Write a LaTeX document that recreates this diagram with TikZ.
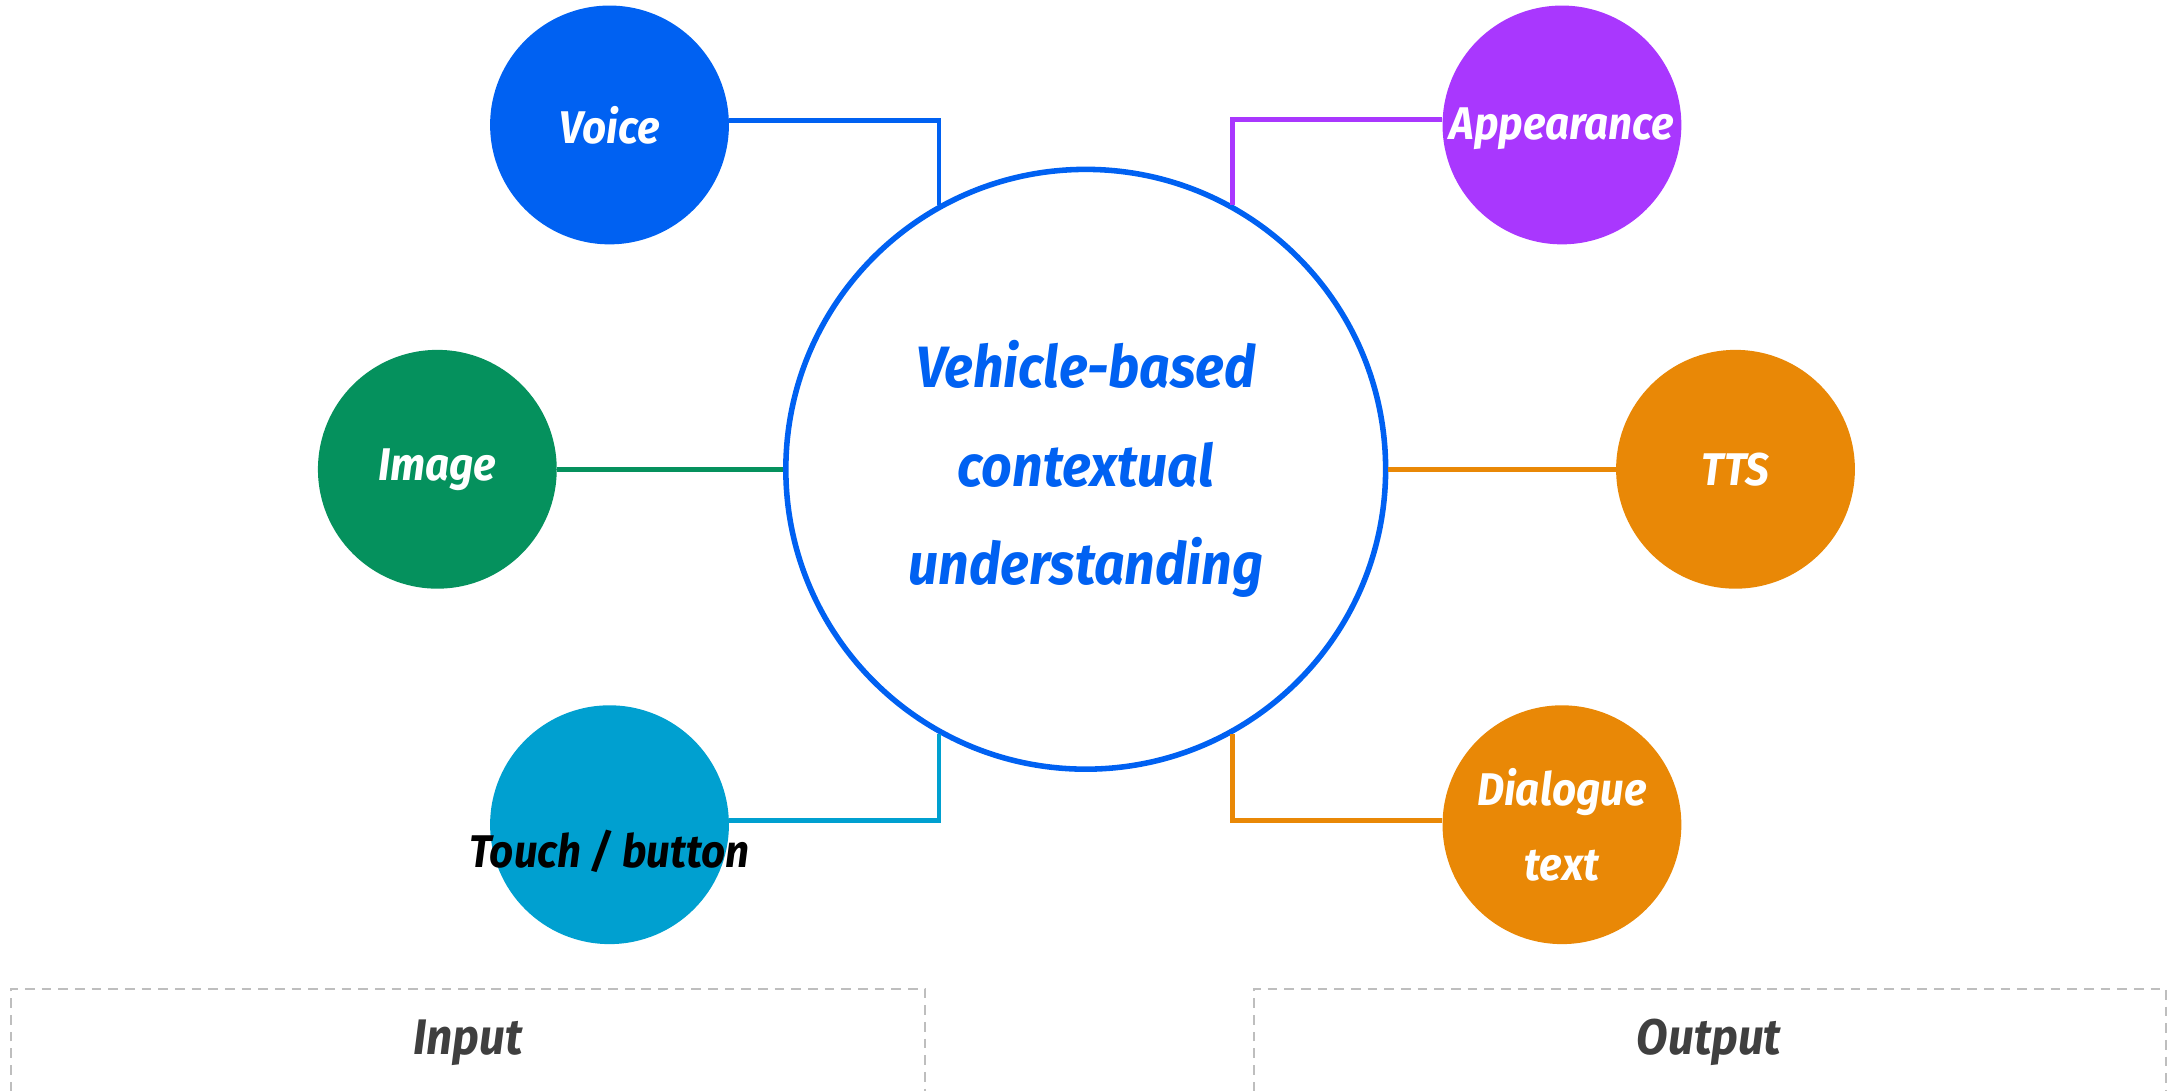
\documentclass[tikz,border=0pt]{standalone}
\usepackage{fontspec}
\setmainfont{Fira Sans}
\newfontfamily\diagfont[FakeStretch=0.92]{Fira Sans}
\definecolor{hubblue}{HTML}{0061F2}
\definecolor{imggreen}{HTML}{05915D}
\definecolor{touchcyan}{HTML}{00A0D0}
\definecolor{lookpurple}{HTML}{A937FE}
\definecolor{speakorange}{HTML}{E98806}
\definecolor{boxgray}{HTML}{BEBEBE}
\definecolor{captiongray}{HTML}{3F3F3F}
\tikzset{
	bubble/.style={circle, fill=#1, minimum size=172pt, inner sep=0pt},
	bubbletext/.style={text=white, font=\diagfont\fontsize{33}{54}\selectfont\bfseries\itshape, align=center},
	link/.style={line width=3.5pt, draw=#1},
	groupbox/.style={draw=boxgray, line width=1.5pt, dash pattern=on 7pt off 5pt},
}
\begin{document}
\begin{tikzpicture}[x=1pt, y=-1pt, line join=miter]
			\useasboundingbox (0,0) rectangle (1568,785.8);
			% Mittelkreis
			\node[circle, draw=hubblue, line width=4pt, minimum size=432pt, inner sep=0pt,
				text=hubblue, align=center, font=\diagfont\fontsize{42}{71}\selectfont\bfseries\itshape]
				(hub) at (782,338) {Vehicle-based\\contextual\\understanding};
			% Eingaben
			\node[bubble=hubblue, label={[bubbletext]center:Voice}] (voice) at (439,90) {};
			\node[bubble=imggreen, label={[bubbletext]center:Image}] (image) at (315,338) {};
			\node[bubble=touchcyan, label={[bubbletext, text=black, yshift=-19pt]center:Touch / button}] (touch) at (439,594) {};
			% Ausgaben
			\node[bubble=lookpurple, label={[bubbletext, yshift=-3pt]center:Appearance}] (appear) at (1125,90) {};
			\node[bubble=speakorange, label={[bubbletext]center:TTS}] (tts) at (1250,338) {};
			\node[bubble=speakorange, label={[bubbletext]center:Dialogue\\text}] (dialog) at (1125,594) {};
			% Verbindungen
			\draw[link=hubblue] ([yshift=3pt]voice.east) -| (hub.119);
			\draw[link=imggreen] (image.east) -- (hub.west);
			\draw[link=touchcyan] ([yshift=3pt]touch.east) -| (hub.241);
			\draw[link=lookpurple] ([yshift=4pt]appear.west) -| (hub.61);
			\draw[link=speakorange] (tts.west) -- (hub.east);
			\draw[link=speakorange] ([yshift=3pt]dialog.west) -| (hub.299);
			% Gruppen
			\draw[groupbox] (8,786) -- (8,712) -- (666,712) -- (666,786);
			\draw[groupbox] (903,786) -- (903,712) -- (1560,712) -- (1560,786);
			\node[text=captiongray, font=\diagfont\fontsize{36}{40}\selectfont\bfseries\itshape] (input) at (337,751) {Input};
			\node[text=captiongray, font=\diagfont\fontsize{36}{40}\selectfont\bfseries\itshape] (output) at (1231,751) {Output};
		\end{tikzpicture}
\end{document}
